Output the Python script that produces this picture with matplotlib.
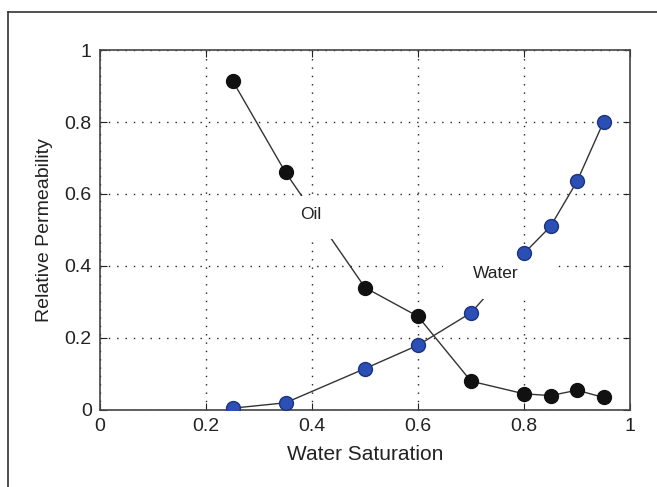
"""
Relative permeability curves of oil and water against water saturation
"""
import matplotlib
matplotlib.use('Agg')
import matplotlib.pyplot as plt
from matplotlib.patches import Rectangle
from matplotlib.lines import Line2D

# Water saturation values where both curves were measured
sw = [0.25, 0.35, 0.5, 0.6, 0.7, 0.8, 0.85, 0.9, 0.95]
# Relative permeability of oil and of water
kr_oil = [0.915, 0.66, 0.34, 0.26, 0.08, 0.045, 0.04, 0.055, 0.035]
kr_water = [0.005, 0.02, 0.115, 0.18, 0.27, 0.435, 0.51, 0.635, 0.80]

ticks = [0, 0.2, 0.4, 0.6, 0.8, 1]
tick_labels = ['0', '0.2', '0.4', '0.6', '0.8', '1']

plt.rcParams['font.family'] = ['Liberation Sans', 'DejaVu Sans']

fig = plt.figure(figsize=(6.57, 4.87), dpi=100)
ax = fig.add_axes([100 / 657, 77 / 487, 530 / 657, 360 / 487])

# Lines behind, markers on top
ax.plot(sw, kr_oil, color='#333333', linewidth=1, zorder=2)
ax.plot(sw, kr_water, color='#333333', linewidth=1, zorder=2)
ax.plot(sw, kr_oil, linestyle='none', marker='o', markersize=10,
        markerfacecolor='#111111', markeredgecolor='#111111', zorder=5)
ax.plot(sw, kr_water, linestyle='none', marker='o', markersize=10,
        markerfacecolor='#2b4fb5', markeredgecolor='#1c3480', zorder=5)

# White boxes behind the labels, hiding the grid and the lines there
ax.add_patch(Rectangle((0.357, 0.475), 0.083, 0.12, facecolor='white',
                       edgecolor='none', zorder=3))
ax.add_patch(Rectangle((0.647, 0.308), 0.206, 0.14, facecolor='white',
                       edgecolor='none', zorder=3))
ax.text(0.398, 0.544, 'Oil', fontsize=12.5, color='#222222',
        ha='center', va='center', zorder=4)
ax.text(0.747, 0.378, 'Water', fontsize=12.5, color='#222222',
        ha='center', va='center', zorder=4)

ax.set_xlim(0, 1)
ax.set_ylim(0, 1)
ax.set_xticks(ticks)
ax.set_xticklabels(tick_labels)
ax.set_yticks(ticks)
ax.set_yticklabels(tick_labels)
ax.tick_params(direction='in', length=5, top=True, right=True,
               labelsize=14, colors='#222222', pad=6)
ax.grid(True, color='#222222', linestyle=(0, (1, 5)), linewidth=1)
ax.set_axisbelow(True)
for s in ax.spines.values():
    s.set_color('#444444')
    s.set_linewidth(1.2)

ax.set_xlabel('Water Saturation', fontsize=15, color='#222222', labelpad=7)
ax.set_ylabel('Relative Permeability', fontsize=14, color='#222222', labelpad=8)

# Outer frame of the figure, cut off at right and bottom
fig.add_artist(Line2D([8 / 657, 8 / 657], [0, 1 - 12 / 487],
                      color='#333333', linewidth=1.2))
fig.add_artist(Line2D([8 / 657, 1], [1 - 12 / 487, 1 - 12 / 487],
                      color='#333333', linewidth=1.2))

plt.savefig('out.png', dpi=100)
